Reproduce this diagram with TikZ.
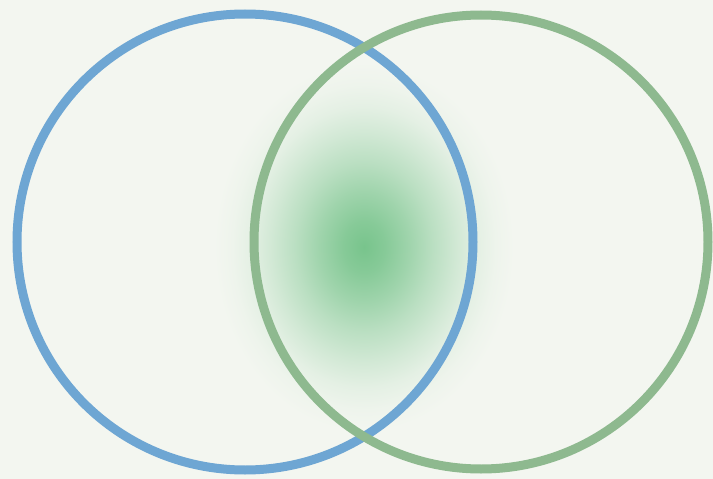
\documentclass[tikz,border=0pt]{standalone}
\definecolor{bg}{HTML}{F3F6F0}
\definecolor{blueC}{HTML}{6EA6D3}
\definecolor{greenC}{HTML}{8EB98F}
\definecolor{glowC}{HTML}{78C48C}
\colorlet{g1}{glowC!88!bg}
\colorlet{g2}{glowC!68!bg}
\colorlet{g3}{glowC!46!bg}
\colorlet{g4}{glowC!27!bg}
\colorlet{g5}{glowC!12!bg}
\colorlet{g6}{glowC!4!bg}
\pgfdeclareradialshading{glowshade}{\pgfpoint{0bp}{0bp}}{%
  color(0bp)=(glowC); color(3.5bp)=(g1); color(7.5bp)=(g2); color(11.5bp)=(g3);
  color(15.5bp)=(g4); color(19bp)=(g5); color(22bp)=(g6); color(25bp)=(bg); color(50bp)=(bg)}
\tikzset{ring/.style={line width=9pt}}
\begin{document}
\begin{tikzpicture}[x=1pt,y=-1pt]
\fill[bg] (0,0) rectangle (713,479);
\useasboundingbox (0,0) rectangle (713,479);
\shade[shading=glowshade] (364,247) ellipse [x radius=150, y radius=185];
\draw[ring, blueC] (245,242) circle [radius=228];
\draw[ring, greenC] (481,242) circle [radius=227];
\end{tikzpicture}
\end{document}
